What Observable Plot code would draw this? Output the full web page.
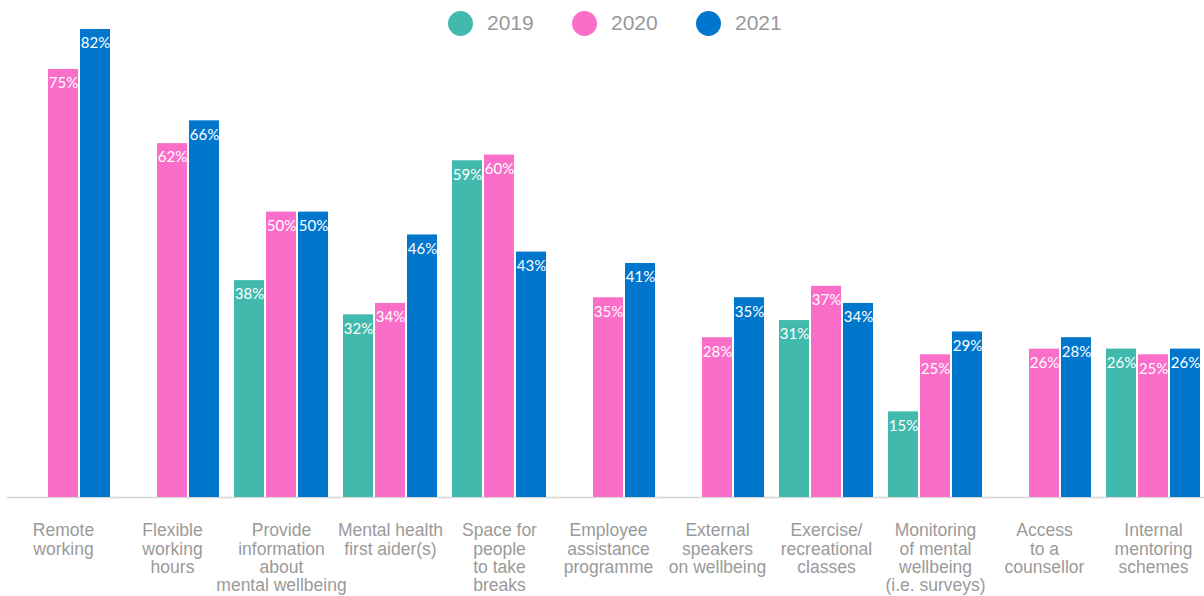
<!DOCTYPE html>
<html>
<head>
<meta charset="utf-8">
<script src="https://cdn.jsdelivr.net/npm/d3@7"></script>
<script src="https://cdn.jsdelivr.net/npm/@observablehq/plot@0.6"></script>
<style>
  html, body { margin: 0; padding: 0; background: #fff; }
  #wrap { position: relative; width: 1204px; height: 596px; overflow: hidden; }
  #legend { position: absolute; top: 0; left: 0; width: 1204px; height: 46px; }
  .item { position: absolute; top: 10.5px; height: 25px; display: flex; align-items: center; }
  .dot { width: 25px; height: 25px; border-radius: 50%; margin-right: 14px; }
  .lab { font-family: "Helvetica Neue", Arial, "Liberation Sans", sans-serif; font-size: 21px; color: #999; }
</style>
</head>
<body>
<div id="wrap"><div id="chart"></div><div id="legend"></div></div>
<script>
const categories = [
  "Remote working",
  "Flexible working hours",
  "Provide information about mental wellbeing",
  "Mental health first aider(s)",
  "Space for people to take breaks",
  "Employee assistance programme",
  "External speakers on wellbeing",
  "Exercise/ recreational classes",
  "Monitoring of mental wellbeing (i.e. surveys)",
  "Access to a counsellor",
  "Internal mentoring schemes"
];
const tickLabels = [
  "Remote\nworking",
  "Flexible\nworking\nhours",
  "Provide\ninformation\nabout\nmental wellbeing",
  "Mental health\nfirst aider(s)",
  "Space for\npeople\nto take\nbreaks",
  "Employee\nassistance\nprogramme",
  "External\nspeakers\non wellbeing",
  "Exercise/\nrecreational\nclasses",
  "Monitoring\nof mental\nwellbeing\n(i.e. surveys)",
  "Access\nto a\ncounsellor",
  "Internal\nmentoring\nschemes"
];
const years = ["2019", "2020", "2021"];
const values2019 = [null, null, 38, 32, 59, null, null, 31, 15, null, 26];
const values2020 = [75, 62, 50, 34, 60, 35, 28, 37, 25, 26, 25];
const values2021 = [82, 66, 50, 46, 43, 41, 35, 34, 29, 28, 26];
const colors = ["#41b9ac", "#fa6dc8", "#0077cc"];

const series = [values2019, values2020, values2021];
const rows = [];
categories.forEach((c, i) => {
  years.forEach((y, j) => {
    const v = series[j][i];
    if (v != null) rows.push({cat: c, year: y, value: v});
  });
});

const chart = Plot.plot({
  width: 1204,
  height: 596,
  marginTop: 29,
  marginBottom: 99,
  marginLeft: 14,
  marginRight: 1,
  fx: {domain: categories, paddingInner: 0.1, paddingOuter: 0, axis: null, label: null},
  x: {domain: years, paddingInner: 0.07, paddingOuter: 0.035, axis: null, label: null},
  y: {domain: [0, 82], axis: null, label: null},
  color: {domain: years, range: colors},
  marks: [
    Plot.ruleY([0], {stroke: "#d8d8d8", strokeWidth: 1.5, insetLeft: -7, insetRight: -7}),
    Plot.barY(rows, {fx: "cat", x: "year", y: "value", fill: "year"}),
    Plot.text(rows, {
      fx: "cat", x: "year", y: "value",
      text: d => d.value + "%",
      dy: 14, fill: "white", fontSize: 15,
      fontFamily: "Lato, 'Noto Sans', sans-serif"
    }),
    Plot.text(categories, {
      fx: d => d,
      text: (d, i) => tickLabels[i],
      frameAnchor: "bottom",
      lineAnchor: "top",
      dy: 26,
      lineHeight: 1.04,
      fontSize: 17.5,
      fill: "#9a9a9a",
      fontFamily: "'Helvetica Neue', Arial, 'Liberation Sans', sans-serif"
    })
  ]
});
document.getElementById("chart").appendChild(chart);

const legend = document.getElementById("legend");
years.forEach((y, j) => {
  const item = document.createElement("div");
  item.className = "item";
  item.style.left = (448 + j * 124) + "px";
  const dot = document.createElement("div");
  dot.className = "dot";
  dot.style.background = colors[j];
  const lab = document.createElement("span");
  lab.className = "lab";
  lab.textContent = y;
  item.appendChild(dot);
  item.appendChild(lab);
  legend.appendChild(item);
});
</script>
</body>
</html>
